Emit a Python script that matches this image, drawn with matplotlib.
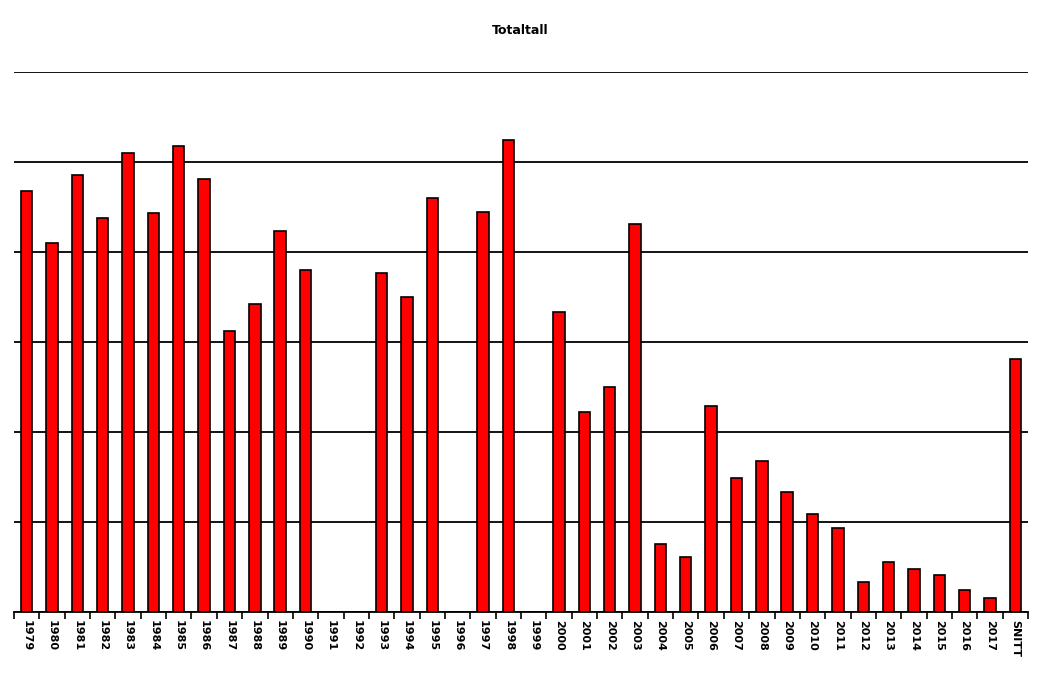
import matplotlib
matplotlib.use("Agg")
import matplotlib.pyplot as plt
import numpy as np

categories = [str(y) for y in range(1979, 2018)] + ["SNITT"]
values = [468, 410, 486, 438, 510, 443, 518, 481, 312, 342, 423, 380, 0, 0,
          377, 350, 460, 0, 444, 524, 0, 333, 222, 250, 431, 76, 61, 229,
          149, 168, 133, 109, 93, 33, 56, 48, 41, 24, 16, 281]

fig = plt.figure(figsize=(10.41, 6.77), dpi=100)
ax = fig.add_axes([14/1041, 65/677, 1014/1041, 540/677])
x = np.arange(len(categories))
ax.bar(x, values, width=0.45, color="#ff0000", edgecolor="black", linewidth=1.2, zorder=3)
ax.set_xlim(-0.5, len(categories) - 0.5)
ax.set_ylim(0, 600)
ax.set_yticks(np.arange(0, 601, 100))
ax.yaxis.grid(True, color="black", linewidth=1.3, zorder=0)
ax.tick_params(axis="y", left=False, labelleft=False)
for s in ["top", "right", "left"]:
    ax.spines[s].set_visible(False)
ax.spines["bottom"].set_linewidth(1.3)
ax.set_xticks(x)
ax.set_xticklabels(categories, rotation=-90, fontsize=8, fontweight="bold")
ax.set_xticks(np.arange(-0.5, len(categories), 1), minor=True)
ax.tick_params(axis="x", which="major", length=0, pad=6)
ax.tick_params(axis="x", which="minor", length=5, width=1.2)
fig.text(0.5, 1 - 30/677, "Totaltall", ha="center", va="center", fontsize=9, fontweight="bold")
fig.savefig("out.png", dpi=100)
